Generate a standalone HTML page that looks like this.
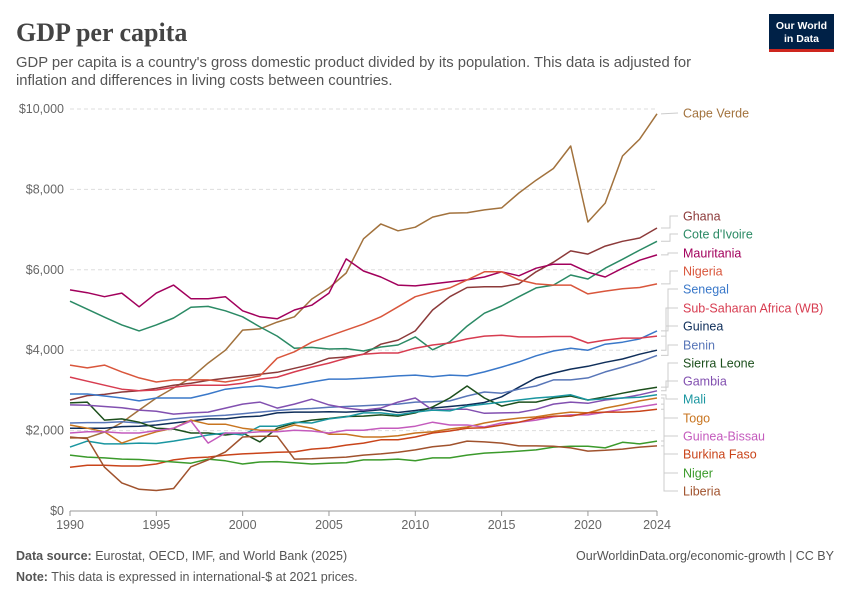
<!DOCTYPE html>
<html><head><meta charset="utf-8">
<style>
body{margin:0;background:#fff;width:850px;height:600px;overflow:hidden;font-family:"Liberation Sans",sans-serif;}
svg text{font-family:"Liberation Sans",sans-serif;}
</style></head>
<body>
<svg width="850" height="600" xmlns="http://www.w3.org/2000/svg">
<text x="16" y="41" font-family="Liberation Serif" font-size="26" font-weight="bold" fill="#444" style="font-family:'Liberation Serif',serif">GDP per capita</text>
<text x="16" y="67" font-size="14.8" fill="#555">GDP per capita is a country's gross domestic product divided by its population. This data is adjusted for</text>
<text x="16" y="85" font-size="14.8" fill="#555">inflation and differences in living costs between countries.</text>
<g>
<rect x="769" y="14" width="65" height="38" fill="#002147"/>
<rect x="769" y="49" width="65" height="3" fill="#ce261e"/>
<text x="801.5" y="29" font-size="10.5" fill="#fff" text-anchor="middle" font-weight="bold">Our World</text>
<text x="801.5" y="42" font-size="10.5" fill="#fff" text-anchor="middle" font-weight="bold">in Data</text>
</g>
<g id="grid"></g>
<g id="series"></g>
<g id="labels"></g>
<text x="16" y="560" font-size="12.5" fill="#555"><tspan font-weight="bold">Data source:</tspan> Eurostat, OECD, IMF, and World Bank (2025)</text>
<text x="834" y="560" font-size="12.5" fill="#555" text-anchor="end">OurWorldinData.org/economic-growth | CC BY</text>
<text x="16" y="581" font-size="12.5" fill="#555"><tspan font-weight="bold">Note:</tspan> This data is expressed in international-$ at 2021 prices.</text>
</svg>
<script>
const years = [];
for (let y = 1990; y <= 2024; y++) years.push(y);
const yTicks = [0, 2000, 4000, 6000, 8000, 10000];
const yTickLabels = ["$0", "$2,000", "$4,000", "$6,000", "$8,000", "$10,000"];
const xTicks = [1990, 1995, 2000, 2005, 2010, 2015, 2020, 2024];
const seriesNames = ["Cape Verde","Ghana","Cote d'Ivoire","Mauritania","Nigeria","Senegal","Sub-Saharan Africa (WB)","Guinea","Benin","Sierra Leone","Gambia","Mali","Togo","Guinea-Bissau","Burkina Faso","Niger","Liberia"];
const capeVerde = [1815,1820,1965,2200,2510,2810,3060,3310,3680,4000,4500,4530,4700,4830,5270,5550,5920,6770,7140,6970,7060,7310,7410,7420,7490,7540,7910,8230,8520,9080,7190,7660,8830,9250,9880];
const ghana = [2760,2870,2900,2960,2990,3050,3130,3180,3250,3300,3350,3400,3450,3550,3650,3800,3830,3900,4150,4250,4480,5000,5330,5560,5580,5580,5650,5950,6190,6470,6390,6590,6710,6790,7040];
const coteDIvoire = [5220,5020,4820,4630,4480,4630,4800,5070,5090,4980,4830,4580,4350,4050,4070,4030,4040,3980,4080,4130,4330,4010,4210,4600,4920,5100,5330,5550,5620,5870,5770,6040,6260,6490,6710];
const mauritania = [5500,5430,5330,5420,5080,5420,5620,5280,5280,5330,4980,4830,4780,5000,5120,5420,6270,5970,5820,5620,5600,5650,5700,5750,5820,5950,5850,6040,6140,6140,5940,5820,6040,6240,6370];
const nigeria = [3630,3560,3630,3460,3310,3210,3260,3260,3260,3210,3280,3360,3800,3960,4200,4350,4500,4650,4830,5080,5330,5450,5550,5750,5950,5950,5750,5650,5620,5620,5400,5470,5530,5560,5650];
const ssa = [3330,3230,3130,3030,2990,3010,3080,3130,3130,3130,3180,3280,3330,3460,3580,3680,3800,3900,3930,3930,4050,4130,4180,4280,4350,4370,4330,4330,4340,4340,4180,4250,4300,4300,4350];
const senegal = [2910,2910,2860,2810,2740,2810,2810,2810,2910,3030,3080,3110,3060,3130,3210,3280,3280,3300,3330,3360,3380,3340,3380,3360,3460,3580,3710,3860,3980,4050,4000,4150,4200,4280,4480];
const guinea = [2060,2060,2060,2100,2110,2140,2190,2240,2290,2290,2340,2360,2440,2460,2460,2470,2460,2480,2520,2450,2500,2560,2600,2640,2700,2840,3080,3310,3430,3530,3600,3700,3780,3900,4000];
const benin = [2190,2200,2200,2220,2190,2240,2290,2330,2360,2380,2420,2460,2500,2530,2550,2580,2600,2620,2640,2660,2710,2720,2740,2860,2960,2930,3030,3110,3260,3260,3310,3460,3580,3710,3870];
const sierraLeone = [2690,2710,2260,2290,2210,2060,2040,1940,1940,1890,1940,1720,2060,2190,2260,2300,2350,2360,2390,2360,2440,2590,2810,3110,2810,2610,2710,2710,2810,2860,2760,2840,2930,3010,3080];
const gambia = [2640,2630,2600,2570,2510,2480,2410,2440,2460,2560,2660,2710,2560,2660,2780,2640,2560,2510,2560,2710,2810,2510,2530,2530,2430,2440,2450,2530,2660,2710,2680,2760,2810,2890,2990];
const mali = [1590,1740,1670,1670,1690,1680,1740,1810,1890,1940,1890,2110,2110,2210,2190,2290,2340,2440,2440,2390,2460,2510,2490,2610,2660,2710,2760,2810,2840,2890,2760,2790,2810,2830,2890];
const togo = [2140,2060,1970,1690,1840,1970,2060,2260,2160,2160,2060,2010,2010,2140,2060,1910,1910,1840,1840,1870,1940,1970,2040,2090,2190,2260,2310,2340,2410,2460,2440,2560,2640,2740,2810];
const guineaBissau = [1940,1970,1970,1940,1940,2000,2060,2240,1690,1940,1940,1970,1970,2010,1990,1940,2010,2010,2060,2060,2110,2210,2140,2140,2090,2190,2210,2260,2340,2390,2390,2460,2530,2590,2660];
const burkinaFaso = [1090,1140,1140,1120,1120,1170,1270,1320,1340,1390,1420,1440,1460,1470,1540,1570,1640,1690,1770,1770,1840,1940,1990,2060,2070,2140,2210,2310,2360,2360,2440,2460,2460,2480,2530];
const niger = [1390,1340,1320,1290,1280,1250,1220,1190,1290,1250,1170,1220,1230,1200,1170,1190,1200,1270,1270,1290,1250,1320,1320,1390,1440,1460,1490,1520,1590,1610,1610,1570,1710,1670,1740];
const liberia = [1840,1800,1090,700,540,510,560,1100,1270,1470,1840,1860,1860,1290,1300,1320,1340,1390,1420,1460,1520,1600,1640,1740,1720,1690,1620,1620,1610,1570,1490,1510,1540,1590,1620];
const seriesValues = [capeVerde,ghana,coteDIvoire,mauritania,nigeria,senegal,ssa,guinea,benin,sierraLeone,gambia,mali,togo,guineaBissau,burkinaFaso,niger,liberia];

const colors = ["#a2723d","#8c3a3a","#2b8a65","#a2005c","#d9563c","#3a78c9","#d73c50","#0f2e5a","#5876b8","#1c4f1c","#8250b0","#1a96a0","#c87520","#c45bbd","#c9441a","#3b9a2b","#a0522d"];
const labelY = [113,216,234,253,271,289,308,326,345,363,381,399,418,436,454,473,491];
const elbowX = [0,670,670,668,670,668,666,666,668,668,666,666,664,664,664,664,664];

const NS = "http://www.w3.org/2000/svg";
const X0 = 70, X1 = 657, Y0 = 511, Y1 = 109;
function xScale(yr){ return X0 + (yr - 1990) / (2024 - 1990) * (X1 - X0); }
function yScale(v){ return Y0 - v / 10000 * (Y0 - Y1); }
function mk(tag, attrs, parent){ const e = document.createElementNS(NS, tag); for (const k in attrs) e.setAttribute(k, attrs[k]); parent.appendChild(e); return e; }

const grid = document.getElementById("grid");
yTicks.forEach((t, i) => {
  const y = yScale(t);
  if (t > 0) {
    const l = mk("line", {x1: X0, x2: X1, y1: y, y2: y, stroke: "#ddd", "stroke-dasharray": "4,3"}, grid);
    
    
  }
  const tx = mk("text", {x: 64, y: y + 4, "font-size": 12.5, fill: "#666", "text-anchor": "end"}, grid);
  tx.textContent = yTickLabels[i];
  
  
});
const axis = mk("line", {x1: X0, x2: X1, y1: Y0, y2: Y0, stroke: "#999"}, grid);


xTicks.forEach(t => {
  const x = xScale(t);
  const tk = mk("line", {x1: x, x2: x, y1: Y0, y2: Y0 + 5, stroke: "#999"}, grid);
  
  
  const tx = mk("text", {x: x, y: Y0 + 18, "font-size": 12.5, fill: "#666", "text-anchor": "middle"}, grid);
  tx.textContent = String(t);
  
  
});

const sg = document.getElementById("series");
const lg = document.getElementById("labels");
seriesValues.forEach((vals, i) => {
  const d = vals.map((v, j) => (j ? "L" : "M") + xScale(years[j]).toFixed(1) + "," + yScale(v).toFixed(1)).join("");
  const p = mk("path", {d: d, fill: "none", stroke: colors[i], "stroke-width": 1.5, "stroke-linejoin": "round"}, sg);
  
  
  const ey = yScale(vals[vals.length - 1]);
  const ly = labelY[i];
  let cd;
  if (i === 0) cd = "M661," + ey + "L678," + ly;
  else cd = "M661," + ey + "L" + elbowX[i] + "," + ey + "L" + elbowX[i] + "," + ly + "L678," + ly;
  const c = mk("path", {d: cd, fill: "none", stroke: "#ccc", "stroke-width": 1}, lg);
  
  
  const t = mk("text", {x: 683, y: ly + 4.5, "font-size": 12.5, fill: colors[i]}, lg);
  t.textContent = seriesNames[i];
  
  
});
</script>
</body></html>
